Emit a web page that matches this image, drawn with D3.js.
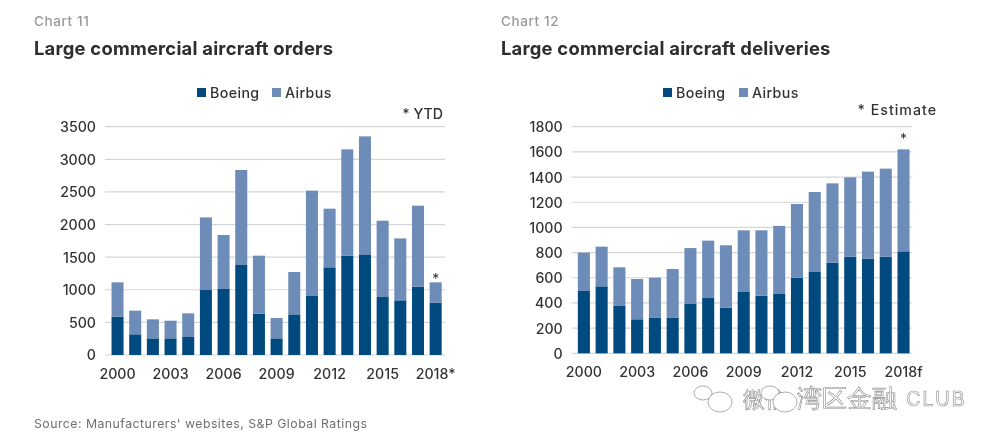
<!DOCTYPE html>
<html><head><meta charset="utf-8">
<script src="https://cdn.jsdelivr.net/npm/d3@7"></script>
<style>
html,body{margin:0;padding:0;background:#fff;width:1000px;height:442px;overflow:hidden}
svg{display:block;filter:blur(0.5px)}
text{font-family:Inter,Roboto,sans-serif}
</style></head><body>
<svg id="c" width="1000" height="442"></svg>
<script>
const years = [2000,2001,2002,2003,2004,2005,2006,2007,2008,2009,2010,2011,2012,2013,2014,2015,2016,2017,2018];
const seriesNames = ["Boeing","Airbus"];
const seriesColors = ["#004a7f","#6e8cb8"];
const ordersBoeing = [588,317,255,255,276,996,1012,1380,634,255,623,905,1344,1523,1543,889,838,1048,802];
const ordersAirbus = [526,363,292,271,363,1114,828,1456,889,312,649,1615,899,1630,1809,1170,950,1241,312];
const deliveriesBoeing = [495,532,376,270,281,281,392,439,363,487,458,471,601,646,720,768,752,768,810];
const deliveriesAirbus = [305,315,307,320,320,389,444,456,495,490,519,541,585,635,630,630,691,699,810];
const ordersTicks = [0,500,1000,1500,2000,2500,3000,3500];
const deliveriesTicks = [0,200,400,600,800,1000,1200,1400,1600,1800];
const xLabelYears = [2000,2003,2006,2009,2012,2015,2018];

const svg = d3.select("#c");
const grey = "#333333";

function chart(o){
  const x = d3.scaleBand().domain(years).range(o.band).paddingInner(0.32).paddingOuter(0.16);
  const y = d3.scaleLinear().domain([0,o.max]).range(o.yr);
  const rows = years.map((yr,i)=>({year:yr,Boeing:o.boeing[i],Airbus:o.airbus[i]}));
  const stacked = d3.stack().keys(seriesNames)(rows);

  const g = svg.append("g");
  g.append("g").selectAll("line").data(o.ticks).join("line")
    .attr("x1",o.grid[0]).attr("x2",o.grid[1])
    .attr("y1",d=>y(d)).attr("y2",d=>y(d))
    .attr("stroke","#d4d6d8").attr("stroke-width",1.2);

  g.append("g").selectAll("g").data(stacked).join("g")
    .attr("fill",(d,i)=>seriesColors[i])
    .selectAll("rect").data(d=>d).join("rect")
    .attr("x",d=>x(d.data.year)).attr("width",x.bandwidth())
    .attr("y",d=>y(d[1])).attr("height",d=>y(d[0])-y(d[1]));

  const ya = g.append("g").attr("transform",`translate(${o.grid[0]-9},0)`)
    .call(d3.axisLeft(y).tickValues(o.ticks).tickSize(0).tickPadding(0).tickFormat(d3.format("d")));
  ya.select(".domain").remove();
  ya.selectAll("text").attr("font-size",14.2).attr("font-weight",500).attr("fill",grey).attr("dy","0.35em").style("font-family","Inter");

  const xa = g.append("g").attr("transform",`translate(0,${o.yr[0]+12})`)
    .call(d3.axisBottom(x).tickValues(xLabelYears).tickSize(0).tickPadding(0)
      .tickFormat(d=>d===2018?"2018"+o.suffix:String(d)));
  xa.select(".domain").remove();
  xa.selectAll("text").attr("font-size",14.2).attr("font-weight",500).attr("fill",grey).attr("dy","0.85em").style("font-family","Inter");

  const last = years.length-1;
  g.append("text").attr("x",x(2018)+x.bandwidth()/2)
    .attr("y",y(o.boeing[last]+o.airbus[last])+o.starDy)
    .attr("text-anchor","middle").attr("font-size",14).attr("fill",grey).text("*");

  g.append("text").attr("x",o.left).attr("y",26).attr("font-size",13.5).attr("letter-spacing",0.6).attr("font-weight",500).attr("fill","#999").text(o.kicker);
  g.append("text").attr("x",o.left).attr("y",55).attr("font-size",18.4).attr("letter-spacing",0.22).attr("font-weight",700).attr("fill","#2e2e2e").text(o.title);

  seriesNames.forEach((n,i)=>{
    g.append("rect").attr("x",o.legend[i]).attr("y",88).attr("width",9).attr("height",9).attr("fill",seriesColors[i]);
    g.append("text").attr("x",o.legend[i]+13).attr("y",98).attr("font-size",14.2).attr("letter-spacing",0.4).attr("font-weight",500).attr("fill",grey).text(n);
  });
  g.append("text").attr("x",o.noteX).attr("y",o.noteY).attr("text-anchor","end").attr("font-size",14.2).attr("letter-spacing",o.noteLs).attr("font-weight",500).attr("fill",grey).text(o.note);
}

chart({band:[108.7,444.5],grid:[105,445],yr:[355,126.7],max:3500,ticks:ordersTicks,boeing:ordersBoeing,airbus:ordersAirbus,starDy:2,noteLs:0,
  suffix:"*",left:34,kicker:"Chart 11",title:"Large commercial aircraft orders",legend:[197,272],note:"* YTD",noteX:443,noteY:119});
chart({band:[575,912.4],grid:[571.7,911.7],yr:[353.3,126.7],max:1800,ticks:deliveriesTicks,boeing:deliveriesBoeing,airbus:deliveriesAirbus,starDy:-5,noteLs:1,
  suffix:"f",left:501,kicker:"Chart 12",title:"Large commercial aircraft deliveries",legend:[663,739],note:"* Estimate",noteX:937,noteY:115});

svg.append("text").attr("x",34).attr("y",428).attr("font-size",12.3).attr("letter-spacing",0.47).attr("fill","#6f6f6f").text("Source: Manufacturers' websites, S&P Global Ratings");

// watermark
const wm = svg.append("g").attr("fill","#fff").attr("stroke","#8c8c8c").attr("stroke-width",0.7);
const cjk = "'Noto Sans CJK SC'";
wm.append("text").attr("x",743).attr("y",407).attr("font-size",22).attr("font-family",cjk).attr("stroke-width",0.6).text("微信");
[[703,393,9,7],[762+8,393,9,7],[720,402,12,10],[785,402,12,10]].forEach(e=>wm.append("ellipse").attr("cx",e[0]).attr("cy",e[1]).attr("rx",e[2]).attr("ry",e[3]));
wm.append("text").attr("x",797).attr("y",407).attr("font-size",25).attr("font-family",cjk).attr("stroke-width",0.6).text("湾区金融");
wm.append("text").attr("x",906).attr("y",406).attr("font-size",20).attr("stroke-width",0.6).attr("letter-spacing",1.6).text("CLUB");
</script>
</body></html>
